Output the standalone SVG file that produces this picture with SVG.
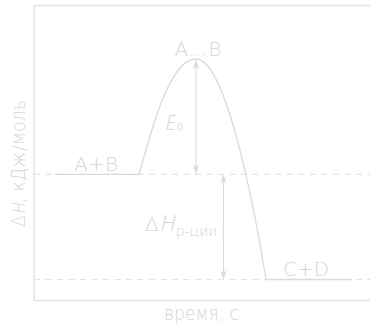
<svg xmlns="http://www.w3.org/2000/svg" width="370" height="324" viewBox="0 0 370 324">
<defs>
<style>
.ax{fill:none;stroke:#e3e3e3;stroke-width:1.5}
.dash{fill:none;stroke:#e3e3e3;stroke-width:1.2;stroke-dasharray:6,5.5}
.curve{fill:none;stroke:#dadada;stroke-width:1.3}
.arr{fill:none;stroke:#dadada;stroke-width:1.2;marker-start:url(#ah);marker-end:url(#ah)}
.t{font-family:"DejaVu Sans",sans-serif;font-weight:200;fill:#d6d6d6;font-size:20px}
.i{font-family:"Open Sans",sans-serif;font-style:italic;font-weight:300;fill:#d6d6d6}
</style>
<marker id="ah" viewBox="0 0 10 10" refX="9" refY="5" markerWidth="9" markerHeight="9" orient="auto-start-reverse" markerUnits="userSpaceOnUse">
<path d="M0,1.5 L10,5 L0,8.5 L2.5,5 Z" fill="#dadada"/>
</marker>
</defs>
<g id="axes">
<path class="ax" d="M370,5.5 H34 V300.5 H370"/>
</g>
<g id="connectors">
<path class="dash" d="M34,174.3 H370"/>
<path class="dash" d="M34,279.5 H370"/>
<path class="curve" d="M55,174.3 H139 C152,128 170,59 196,59 C222,59 248,170 266,279.5 H352"/>
<line class="arr" x1="196" y1="173" x2="196" y2="61"/>
<line class="arr" x1="223.5" y1="278.5" x2="223.5" y2="175.5"/>
</g>
<g id="node-ts"><text class="t" x="198" y="56" text-anchor="middle">A…B</text></g>
<g id="node-ab"><text class="t" x="96" y="171" text-anchor="middle">A+B</text></g>
<g id="node-cd"><text class="t" x="306" y="276" text-anchor="middle">C+D</text></g>
<g id="label-ea"><text class="t" x="165.5" y="130"><tspan class="i">E</tspan><tspan font-size="13">а</tspan></text></g>
<g id="label-dh"><text class="t" x="145" y="231">Δ<tspan class="i" dx="2" font-size="22">H</tspan><tspan font-size="14" dy="5">р-ции</tspan></text></g>
<g id="label-x"><text class="t" x="164" y="320" font-size="14" textLength="75" lengthAdjust="spacingAndGlyphs">время, с</text></g>
<g id="label-y"><text class="t" transform="translate(25,227) rotate(-90)" font-size="16" textLength="127" lengthAdjust="spacingAndGlyphs">Δ<tspan class="i" dx="2" font-size="18">H</tspan>, кДж<tspan dx="1">/моль</tspan></text></g>
</svg>
